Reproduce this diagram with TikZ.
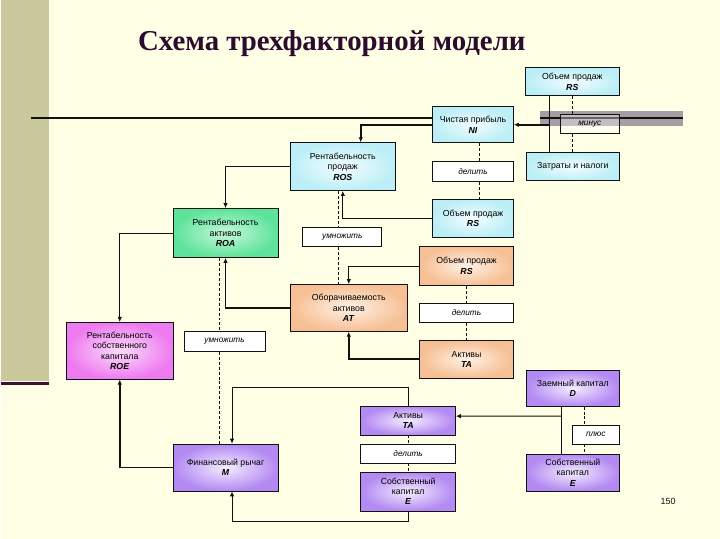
\documentclass[tikz,border=0pt]{standalone}
\usepackage{fontspec}
\setmainfont{Liberation Sans}
\newfontfamily\titlefont{Liberation Serif}
\usetikzlibrary{arrows.meta}
\definecolor{ink}     {HTML}{111111}
\definecolor{paper}   {HTML}{FFFFE6}
\definecolor{strip}   {HTML}{C9C99B}
\definecolor{plum}    {HTML}{3B1236}
\definecolor{band}    {HTML}{877B8E}
\definecolor{titleink}{HTML}{2B0B2E}
\definecolor{cyanout} {HTML}{BCEEF7}
\definecolor{cyanin}  {HTML}{F2FDFF}
\definecolor{greenout}{HTML}{5EE39A}
\definecolor{greenin} {HTML}{C6F7DA}
\definecolor{peachout}{HTML}{F6BF94}
\definecolor{peachin} {HTML}{FFF1E4}
\definecolor{pinkout} {HTML}{EE7AF0}
\definecolor{pinkin}  {HTML}{FBDDFB}
\definecolor{violout} {HTML}{B389F2}
\definecolor{violin}  {HTML}{F4EDFF}
\newcommand{\fvar}[1]{\textbf{\textit{#1}}}
\tikzset{
  box/.style      ={draw=ink, line width=0.8pt, align=center, inner sep=1pt,
                    font=\fontsize{8.8}{10.3}\selectfont},
  cbox/.style     ={box, shade, outer color=cyanout, inner color=cyanin},
  gbox/.style     ={box, shade, outer color=greenout, inner color=greenin},
  obox/.style     ={box, shade, outer color=peachout, inner color=peachin},
  mbox/.style     ={box, shade, outer color=pinkout, inner color=pinkin},
  vbox/.style     ={box, shade, outer color=violout, inner color=violin},
  opbox/.style    ={box, fill=white, font=\fontsize{8.3}{10}\selectfont\itshape},
  arr/.style      ={-{Latex[length=5pt,width=4.5pt]}, line width=0.8pt, draw=ink},
  thkarr/.style   ={arr, line width=1.7pt},
  link/.style     ={line width=0.8pt, draw=ink},
  thklink/.style  ={line width=1.7pt, draw=ink},
  dashlink/.style ={draw=ink, line width=0.6pt, dash pattern=on 3pt off 2pt},
}

\begin{document}
\begin{tikzpicture}[x=1bp,y=-1bp]
  \fill[paper] (0,0) rectangle (720,540);
  \fill[strip] (0,0) rectangle (48,382);
  \draw[plum, line width=3bp] (0,384) -- (48,384);
  \draw[ink, line width=2.2bp] (30,118) -- (432,118);
  \fill[band, opacity=0.75] (540,111) rectangle (683,126);
  \draw[ink, line width=2.2bp] (540,118) -- (683,118);

  \node[font=\titlefont\bfseries\fontsize{29}{34}\selectfont, text=titleink] (title) at (331,44)
    {Схема трехфакторной модели};

  \node[cbox,minimum width=94bp,minimum height=28bp] (rs1) at (572,82) {Объем продаж\\\fvar{RS}};
  \node[cbox,minimum width=81bp,minimum height=36bp] (ni) at (472.5,125) {Чистая прибыль\\\fvar{NI}};
  \node[opbox,fill opacity=0.35,text opacity=1,minimum width=59bp,minimum height=19bp] (minus) at (589.5,124.5) {минус};
  \node[cbox,minimum width=93bp,minimum height=28bp] (costs) at (572.5,167) {Затраты и налоги};
  \node[opbox,minimum width=81bp,minimum height=20bp] (div1) at (472.5,172) {делить};
  \node[cbox,minimum width=106bp,minimum height=48bp] (ros) at (342,167) {Рентабельность\\продаж\\\fvar{ROS}};
  \node[cbox,minimum width=81bp,minimum height=38bp] (rs2) at (472.5,219) {Объем продаж\\\fvar{RS}};
  \node[opbox,minimum width=79bp,minimum height=19bp] (mul1) at (341.5,237.5) {умножить};

  \node[gbox,minimum width=105bp,minimum height=49bp] (roa) at (224.5,233.5) {Рентабельность\\активов\\\fvar{ROA}};
  \node[obox,minimum width=94bp,minimum height=39bp] (rs3) at (466,266.5) {Объем продаж\\\fvar{RS}};
  \node[obox,minimum width=118bp,minimum height=47bp] (at) at (348,308.5) {Оборачиваемость\\активов\\\fvar{AT}};
  \node[opbox,minimum width=94bp,minimum height=19bp] (div2) at (466,313.5) {делить};
  \node[obox,minimum width=94bp,minimum height=38bp] (ta1) at (466,360) {Активы\\\fvar{TA}};

  \node[mbox,minimum width=107bp,minimum height=57bp] (roe) at (118.5,351.5) {Рентабельность\\собственного\\капитала\\\fvar{ROE}};
  \node[opbox,minimum width=81bp,minimum height=20bp] (mul2) at (223.5,342) {умножить};

  \node[vbox,minimum width=93bp,minimum height=36bp] (d) at (572.5,389) {Заемный капитал\\\fvar{D}};
  \node[vbox,minimum width=95bp,minimum height=29bp] (ta2) at (407.5,421.5) {Активы\\\fvar{TA}};
  \node[opbox,minimum width=47bp,minimum height=19bp] (plus) at (595.5,435.5) {плюс};
  \node[vbox,minimum width=105bp,minimum height=47bp] (m) at (224.5,468.5) {Финансовый рычаг\\\fvar{M}};
  \node[opbox,minimum width=95bp,minimum height=19bp] (div3) at (407.5,454.5) {делить};
  \node[vbox,minimum width=93bp,minimum height=37bp] (e2) at (572.5,473.5) {Собственный\\капитал\\\fvar{E}};
  \node[vbox,minimum width=95bp,minimum height=39bp] (e1) at (407.5,492.5) {Собственный\\капитал\\\fvar{E}};

  \node[font=\fontsize{9}{10}\selectfont, text=ink] (page) at (668,502) {150};

  \draw[thklink] ([xshift=-23bp]rs1.south) -- ([xshift=-23bp]rs1.south |- costs.north);
  \draw[thkarr] ([xshift=-23bp]rs1.south |- ni.east) -- (ni.east);
  \draw[dashlink] (rs1.south) -- (rs1.south |- minus.north);
  \draw[dashlink] (rs1.south |- minus.south) -- (rs1.south |- costs.north);

  \draw[thkarr] (ni.west) -| ([xshift=18bp]ros.north);
  \draw[dashlink] ([xshift=6.5bp]ni.south) -- ([xshift=6.5bp]ni.south |- div1.north);
  \draw[dashlink] ([xshift=6.5bp]div1.south) -- ([xshift=6.5bp]div1.south |- rs2.north);
  \draw[arr] (rs2.west) -| (ros.south);

  \draw[thkarr] (ros.west) -| (roa.north);
  \draw[dashlink] ([xshift=-5bp]ros.south) -- ([xshift=-5bp]ros.south |- mul1.north);
  \draw[dashlink] ([xshift=-5bp]ros.south |- mul1.south) -- ([xshift=-5bp]ros.south |- at.north);
  \draw[arr] (roa.west) -| (roe.north);
  \draw[thkarr] (at.west) -| (roa.south);
  \draw[arr] (rs3.west) -| (at.north);
  \draw[dashlink] (rs3.south) -- (div2.north);
  \draw[dashlink] (div2.south) -- (ta1.north);
  \draw[thkarr] (ta1.west) -| (at.south);

  \draw[dashlink] ([xshift=-6.5bp]roa.south) -- ([xshift=-6.5bp]roa.south |- mul2.north);
  \draw[dashlink] ([xshift=-6.5bp]roa.south |- mul2.south) -- ([xshift=-6.5bp]m.north);
  \draw[thkarr] (m.west) -| (roe.south);
  \draw[arr] (ta2.north) -- ++(0,-18) -| ([xshift=6.5bp]m.north);
  \draw[arr] (e1.south) -- ++(0,10) -| ([xshift=6.5bp]m.south);
  \draw[dashlink] (ta2.south) -- (div3.north);
  \draw[dashlink] (div3.south) -- (e1.north);

  \draw[link] ([xshift=-11.5bp]d.south) -- ([xshift=-11.5bp]d.south |- e2.north);
  \draw[arr] ([xshift=-11.5bp]d.south |- ta2.east) ++(0,-4.5) -- ([yshift=4.5bp]ta2.east);
  \draw[dashlink] ([xshift=11.5bp]d.south) -- ([xshift=11.5bp]d.south |- plus.north);
  \draw[dashlink] ([xshift=11.5bp]d.south |- plus.south) -- ([xshift=11.5bp]d.south |- e2.north);
\end{tikzpicture}
\end{document}
